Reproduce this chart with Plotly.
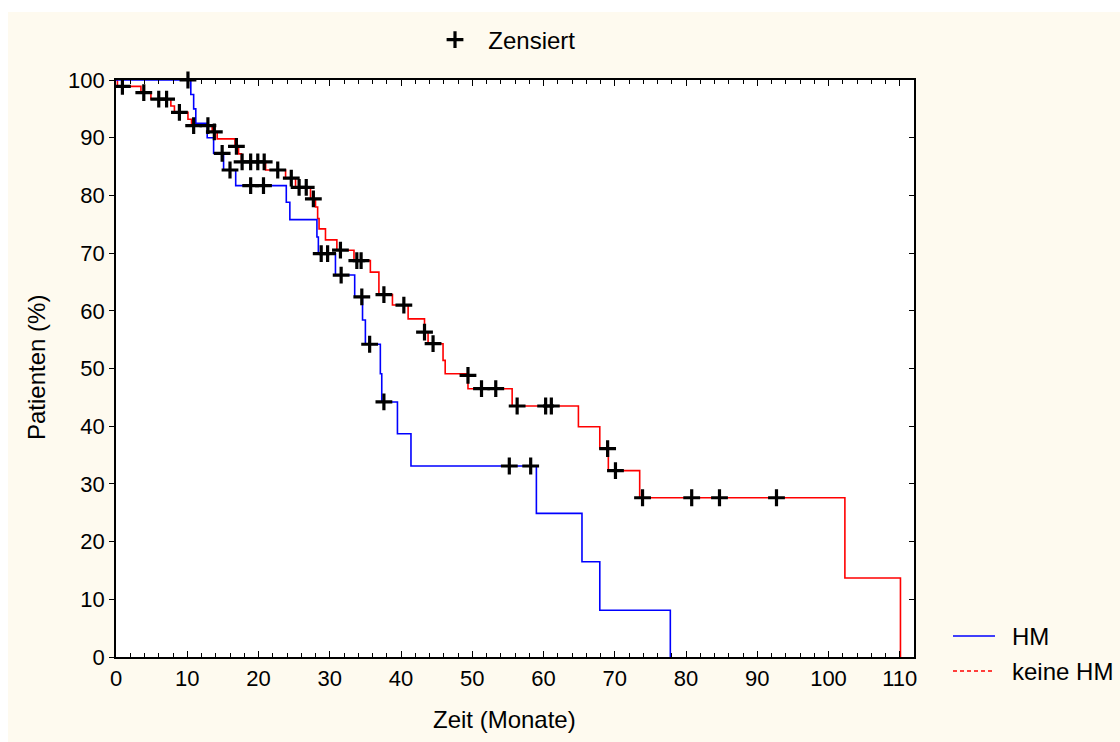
import plotly.graph_objects as go

# ---- Kaplan-Meier data (months, survival %) ----
hm_times = [0, 10.5, 10.9, 11.2, 12.8, 13.7, 15.1, 16.8, 23.9, 24.4, 28.2, 28.4,
            30.8, 33.5, 34.6, 35.0, 37.1, 37.3, 39.5, 41.4, 59.0, 65.4, 67.9, 77.8]
hm_surv = [100, 97.5, 95.0, 92.5, 90.0, 87.3, 84.4, 81.7, 78.8, 75.8, 72.8, 69.9,
           66.2, 62.4, 58.4, 54.2, 49.1, 44.2, 38.7, 33.1, 24.9, 16.5, 8.1, 0]

keine_times = [0, 0.2, 3.5, 4.9, 7.7, 8.2, 10.1, 10.6, 13.5, 14.2, 16.7, 17.2, 17.6,
               21.0, 23.8, 25.2, 27.3, 28.0, 28.3, 28.5, 29.4, 31.0, 33.4, 35.7, 36.9,
               38.8, 41.0, 43.3, 43.8, 45.9, 46.2, 49.4, 55.6, 64.9, 67.9, 69.1, 73.5,
               102.3, 110.1]
keine_surv = [100, 98.9, 97.8, 96.7, 95.5, 94.4, 93.2, 92.1, 91.0, 89.8, 88.5, 87.2, 85.8,
              84.4, 83.0, 81.4, 79.4, 78.0, 76.0, 74.2, 72.3, 70.5, 68.7, 66.7, 62.8,
              61.0, 58.6, 56.3, 54.3, 51.4, 49.1, 46.5, 43.5, 39.9, 36.1, 32.3, 27.6,
              13.7, 0]

# censored observations
hm_cens_t = [10.1, 14.9, 16.0, 18.9, 20.7, 28.8, 29.7, 31.6, 34.5, 35.6, 37.6, 55.2, 58.2]
hm_cens_p = [100, 87.3, 84.4, 81.7, 81.7, 69.9, 69.9, 66.2, 62.4, 54.2, 44.2, 33.1, 33.1]

keine_cens_t = [0.9, 3.9, 6.0, 7.1, 8.9, 10.9, 12.9, 13.8, 16.9, 17.7, 18.9, 19.9, 20.8,
                22.7, 24.6, 25.7, 26.7, 27.7, 31.5, 33.8, 34.4, 37.6, 40.4, 43.3, 44.5,
                49.4, 51.3, 53.3, 56.3, 60.3, 61.1, 69.0, 70.1, 73.9, 80.8, 84.7, 92.7]
keine_cens_p = [98.9, 97.8, 96.7, 96.7, 94.4, 92.1, 92.1, 91.0, 88.5, 85.8, 85.8, 85.8, 85.8,
                84.4, 83.0, 81.4, 81.4, 79.4, 70.5, 68.7, 68.7, 62.8, 61.0, 56.3, 54.3,
                48.8, 46.5, 46.5, 43.5, 43.5, 43.5, 36.1, 32.3, 27.6, 27.6, 27.6, 27.6]

x_ticks = [0, 10, 20, 30, 40, 50, 60, 70, 80, 90, 100, 110]
y_ticks = [0, 10, 20, 30, 40, 50, 60, 70, 80, 90, 100]

series_names = ["HM", "keine HM"]
censor_name = "Zensiert"
x_title = "Zeit (Monate)"
y_title = "Patienten (%)"

# ---- layout geometry (pixels) ----
W, H = 1120, 742
L, R, T, B = 116, 914, 80, 657
FONT = "Liberation Sans, Arial, Helvetica, sans-serif"
FS_TICK = 22
FS_TXT = 24


def px_x(px):
    return (px - L) / (R - L)


def px_y(py):
    return (B - py) / (B - T)


fig = go.Figure()

fig.add_trace(go.Scatter(x=keine_times, y=keine_surv, mode="lines",
                         line=dict(shape="hv", color="#ff0000", width=1.6),
                         showlegend=False, hoverinfo="skip"))
fig.add_trace(go.Scatter(x=hm_times, y=hm_surv, mode="lines",
                         line=dict(shape="hv", color="#0000ff", width=1.6),
                         showlegend=False, hoverinfo="skip"))
fig.add_trace(go.Scatter(x=hm_cens_t + keine_cens_t, y=hm_cens_p + keine_cens_p,
                         mode="markers", name="\u00a0\u00a0" + censor_name,
                         marker=dict(symbol="cross-thin", size=12, color="black",
                                     line=dict(width=3.2, color="black")),
                         cliponaxis=False, hoverinfo="skip"))
# dummy trace for right-hand y axis (inward ticks)
fig.add_trace(go.Scatter(x=[None], y=[None], yaxis="y2", showlegend=False))

shapes = []
annotations = []

# cream page background with white strip at top/left
shapes.append(dict(type="rect", xref="paper", yref="paper", layer="below",
                   x0=px_x(0), x1=px_x(8), y0=px_y(W), y1=px_y(-5),
                   fillcolor="white", line=dict(width=0)))
shapes.append(dict(type="rect", xref="paper", yref="paper", layer="below",
                   x0=px_x(0), x1=px_x(W), y0=px_y(12), y1=px_y(-5),
                   fillcolor="white", line=dict(width=0)))

# manual legend for the two groups
leg_items = [(series_names[0], "#0000ff", "solid", 636),
             (series_names[1], "#ff0000", "4px,3px", 671)]
for name, col, dash, py in leg_items:
    shapes.append(dict(type="line", xref="paper", yref="paper",
                       x0=px_x(953), x1=px_x(995), y0=px_y(py), y1=px_y(py),
                       line=dict(color=col, width=1.6, dash=dash)))
    annotations.append(dict(text=name, xref="paper", yref="paper",
                            x=px_x(1010), y=px_y(py), xanchor="left", yanchor="middle",
                            showarrow=False, font=dict(family=FONT, size=FS_TXT, color="black")))

annotations.append(dict(text=x_title, xref="paper", yref="paper",
                        x=px_x(504), y=px_y(719), xanchor="center", yanchor="middle",
                        showarrow=False, font=dict(family=FONT, size=FS_TXT, color="black")))
annotations.append(dict(text=y_title, xref="paper", yref="paper", textangle=-90,
                        x=px_x(36), y=px_y(368), xanchor="center", yanchor="middle",
                        showarrow=False, font=dict(family=FONT, size=FS_TXT, color="black")))

fig.update_layout(
    width=W, height=H,
    margin=dict(l=L, r=W - R, t=T, b=H - B, pad=0, autoexpand=False),
    paper_bgcolor="#fefaef",
    plot_bgcolor="white",
    font=dict(family=FONT, size=FS_TICK, color="black"),
    showlegend=True,
    legend=dict(orientation="h", xref="container", yref="container",
                x=435 / W, y=1 - 40 / H, xanchor="left", yanchor="middle",
                bgcolor="rgba(0,0,0,0)", font=dict(family=FONT, size=FS_TXT, color="black")),
    xaxis=dict(range=[0, 112], tickvals=x_ticks, ticks="inside", ticklen=6,
               tickwidth=1.2, tickcolor="black",
               minor=dict(dtick=2, tick0=0, ticks="inside", ticklen=4, tickcolor="black",
                          tickwidth=1),
               showline=True, linecolor="black", linewidth=1.6, mirror="ticks",
               showgrid=False, zeroline=False, ticklabelstandoff=1),
    yaxis=dict(range=[0, 100], tickvals=y_ticks, ticks="outside", ticklen=5,
               tickwidth=1.2, tickcolor="black",
               showline=True, linecolor="black", linewidth=1.6, mirror=True,
               showgrid=False, zeroline=False),
    yaxis2=dict(range=[0, 100], tickvals=y_ticks, ticks="inside", ticklen=5,
                tickwidth=1.2, tickcolor="black", overlaying="y", side="right",
                showticklabels=False, showline=False, showgrid=False, zeroline=False),
    shapes=shapes,
    annotations=annotations,
)

fig.write_html("out.html")
